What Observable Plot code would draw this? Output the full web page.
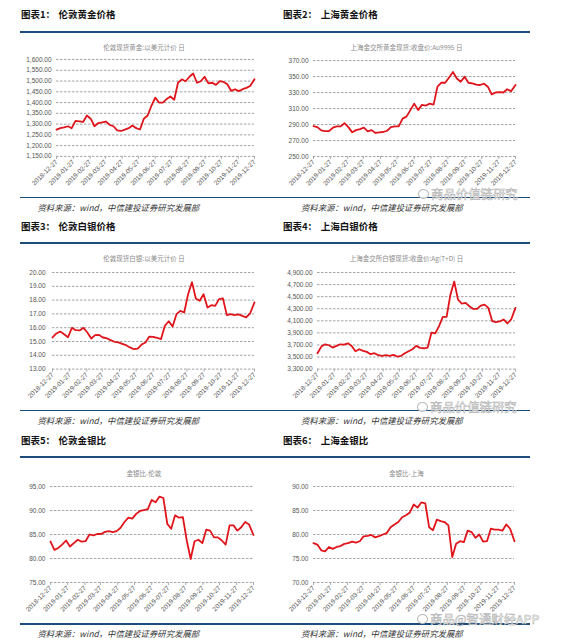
<!DOCTYPE html>
<html><head><meta charset="utf-8">
<script src="https://cdn.jsdelivr.net/npm/d3@7"></script>
<script src="https://cdn.jsdelivr.net/npm/@observablehq/plot@0.6"></script>
<style>
html,body{margin:0;padding:0;background:#fff;}
#page{position:relative;width:572px;height:638px;overflow:hidden;background:#fff;font-family:"Noto Sans CJK SC",sans-serif;}
.t{position:absolute;white-space:nowrap;line-height:1;}
.title{font-weight:bold;font-size:9.5px;color:#111;}
.rule{position:absolute;background:#1d4d7a;}
.sub{font-size:6.5px;color:#8a8a8a;transform:translateX(-50%);}
.src{font-size:8.4px;color:#333;font-style:italic;}
.wm{font-size:12.4px;color:rgba(255,255,255,0.9);-webkit-text-stroke:0.5px #b0b0b0;}
.logo{position:absolute;width:9px;height:8px;border:1px solid #b8b8b8;border-radius:50%;background:rgba(255,255,255,0.8);}
</style></head><body><div id="page"></div>
<script>
// ---- data (weekly readings, 2018-12-27 .. 2019-12-27) ----
const dates = ["2018-12-27","2019-01-03","2019-01-10","2019-01-17","2019-01-24","2019-01-31","2019-02-07","2019-02-14","2019-02-21","2019-02-28",
"2019-03-07","2019-03-14","2019-03-21","2019-03-28","2019-04-04","2019-04-11","2019-04-18","2019-04-25","2019-05-02","2019-05-09",
"2019-05-16","2019-05-23","2019-05-30","2019-06-06","2019-06-13","2019-06-20","2019-06-27","2019-07-04","2019-07-11","2019-07-18",
"2019-07-25","2019-08-01","2019-08-08","2019-08-15","2019-08-22","2019-08-29","2019-09-05","2019-09-12","2019-09-19","2019-09-26",
"2019-10-03","2019-10-10","2019-10-17","2019-10-24","2019-10-31","2019-11-07","2019-11-14","2019-11-21","2019-11-28","2019-12-05",
"2019-12-12","2019-12-19","2019-12-27"];

const londonGold = [1274,1281,1285,1290,1281,1315,1313,1310,1340,1325,1290,1305,1308,1312,1296,1290,1271,1268,1274,1281,1293,1281,1275,1325,1340,1385,1423,1400,1400,1416,1428,1413,1492,1508,1499,1520,1535,1492,1499,1520,1489,1492,1482,1500,1496,1485,1454,1462,1453,1462,1468,1477,1508];
const shanghaiGold = [288,286.7,282.7,281.8,281.8,286,287.6,287.6,291.6,286.7,280.2,283,284.3,286,281.4,283,279.4,280.2,280.6,282.2,286.7,287.6,287.6,297.3,299.8,308,316.1,308,314.5,313.7,316.1,314.9,337.3,342.2,342.2,348.8,355.7,347.5,343.5,349.6,342.2,341.4,339.8,339.4,341,337.3,327.6,330,330.4,330,334.1,331.6,339.4];
const londonSilver = [15.29,15.58,15.72,15.53,15.31,15.99,15.82,15.80,15.99,15.65,15.22,15.46,15.48,15.29,15.24,15.10,14.98,14.93,14.83,14.73,14.57,14.44,14.49,14.78,14.93,15.36,15.34,15.27,15.17,16.14,16.47,16.09,16.98,17.22,17.10,18.43,19.30,18.12,17.95,18.43,17.46,17.63,17.58,18.07,18.12,16.91,16.98,16.91,16.96,16.86,16.74,17.03,17.83];
const shanghaiSilver = [3563,3673,3711,3695,3656,3684,3711,3705,3727,3684,3596,3629,3601,3585,3547,3563,3530,3519,3530,3519,3536,3508,3519,3563,3596,3629,3684,3651,3645,3656,3903,3892,4012,4166,4166,4533,4750,4451,4385,4396,4341,4297,4297,4352,4368,4314,4095,4078,4089,4122,4056,4122,4314];
const londonRatio = [83.54,81.8,82.2,82.9,83.75,82.5,83.2,83.9,83.5,83.6,85.0,84.8,85.1,85.1,85.55,85.7,85.5,85.7,86.4,87.6,88.5,88.3,89.3,89.9,90.1,90.3,92.2,91.7,92.9,92.6,87.2,86.2,89.0,88.5,88.6,83.75,79.9,83.6,83.9,83.2,86.0,85.8,84.4,84.4,83.75,82.9,86.9,86.9,85.8,86.5,87.6,87.1,84.9];
const shanghaiRatio = [78.2,77.9,76.7,76.5,77.4,77.0,77.4,77.6,78.05,78.2,78.5,78.3,78.6,79.6,79.7,79.9,79.4,79.65,80.0,80.3,81.5,82.1,82.6,83.6,84.0,84.6,86.25,85.6,86.7,86.5,81.5,80.9,83.1,82.8,82.6,81.9,75.3,78.05,78.6,78.4,80.8,80.5,79.3,80.0,78.5,78.6,81.2,81.0,81.0,80.8,82.1,81.2,78.6];

const monthTicks = ["2018-12-27","2019-01-27","2019-02-27","2019-03-27","2019-04-27","2019-05-27","2019-06-27","2019-07-27","2019-08-27","2019-09-27","2019-10-27","2019-11-27","2019-12-27"];
const ticksLondonGold = [1150,1200,1250,1300,1350,1400,1450,1500,1550,1600];
const ticksShanghaiGold = [250,270,290,310,330,350,370];
const ticksLondonSilver = [13,14,15,16,17,18,19,20];
const ticksShanghaiSilver = [3300,3500,3700,3900,4100,4300,4500,4700,4900];
const ticksLondonRatio = [75,80,85,90,95];
const ticksShanghaiRatio = [70,75,80,85,90];

const numLabels = ["图表1：","图表2：","图表3：","图表4：","图表5：","图表6："];
const chartNames = ["伦敦黄金价格","上海黄金价格","伦敦白银价格","上海白银价格","伦敦金银比","上海金银比"];
const subtitles = ["伦敦现货黄金:以美元计价 日","上海金交所黄金现货:收盘价:Au9995 日","伦敦现货白银:以美元计价 日","上海金交所白银现货:收盘价:Ag(T+D) 日","金银比-伦敦","金银比-上海"];
const sourceText = "资料来源：wind，中信建投证券研究发展部";

// ---- layout ----
const page = document.getElementById("page");
function addText(cls, txt, x, yc, size) {
  const el = document.createElement("div");
  el.className = "t " + cls;
  el.textContent = txt;
  el.style.left = x + "px";
  el.style.top = (yc - size / 2) + "px";
  page.appendChild(el);
  return el;
}
function addRule(x1, x2, y, h) {
  const el = document.createElement("div");
  el.className = "rule";
  el.style.left = x1 + "px"; el.style.width = (x2 - x1) + "px";
  el.style.top = (y - h / 2) + "px"; el.style.height = h + "px";
  page.appendChild(el);
}
function addWatermark(x, yc, txt) {
  const logo = document.createElement("div");
  logo.className = "logo";
  logo.style.left = x + "px"; logo.style.top = (yc - 5) + "px";
  page.appendChild(logo);
  addText("wm", txt, x + 13, yc, 12.4);
}

const rows = [
  {titleY: 15, topRule: 31.7, subY: 47, botRule: 197.3, srcY: 207},
  {titleY: 226.7, topRule: 243.3, subY: 258.3, botRule: 410.7, srcY: 420.5},
  {titleY: 441, topRule: 457.3, subY: 473.3, botRule: 624, srcY: 633.3}
];
const cols = [
  {numX: 21, nameX: 58.5, subX: 144, srcX: 37.5},
  {numX: 283, nameX: 320.7, subX: 406.5, srcX: 301}
];

const panels = [
  {values: londonGold, yTicks: ticksLondonGold, fmt: ",.2f", pad: 5, plot: [56, 254, 59.3, 156.2]},
  {values: shanghaiGold, yTicks: ticksShanghaiGold, fmt: ".2f", pad: 5, plot: [313, 515, 60, 156]},
  {values: londonSilver, yTicks: ticksLondonSilver, fmt: ".2f", pad: 7, plot: [52, 254, 271.7, 368.3]},
  {values: shanghaiSilver, yTicks: ticksShanghaiSilver, fmt: ",.2f", pad: 5, plot: [317, 515, 271.7, 368.3]},
  {values: londonRatio, yTicks: ticksLondonRatio, fmt: ".2f", pad: 5, plot: [50, 253, 486, 582]},
  {values: shanghaiRatio, yTicks: ticksShanghaiRatio, fmt: ".2f", pad: 5, plot: [313, 514, 486, 582]}
];

rows.forEach(r => {
  addRule(20, 530, r.topRule, 2.2);
  addRule(20, 530, r.botRule, 1.6);
});

const parse = s => new Date(s + "T00:00:00Z");
const xTicks = monthTicks.map(parse);

panels.forEach((p, i) => {
  const r = rows[Math.floor(i / 2)], c = cols[i % 2];
  addText("title", numLabels[i], c.numX, r.titleY, 9.5);
  addText("title", chartNames[i], c.nameX, r.titleY, 9.5);
  addText("sub", subtitles[i], c.subX, r.subY, 6.5);
  addText("src", sourceText, c.srcX, r.srcY, 8.4);

  const [L, R, T, B] = p.plot;
  const ml = 40, mr = 15, mt = 6, mb = 48;
  const data = dates.map((d, j) => ({date: parse(d), value: p.values[j]}));
  const svg = Plot.plot({
    width: R - L + ml + mr,
    height: B - T + mt + mb,
    marginLeft: ml, marginRight: mr, marginTop: mt, marginBottom: mb,
    style: {background: "transparent", overflow: "visible", fontFamily: "'Liberation Sans', Arial, sans-serif", fontSize: "6.5px"},
    x: {type: "utc", domain: [xTicks[0], xTicks[xTicks.length - 1]], label: null},
    y: {domain: [p.yTicks[0], p.yTicks[p.yTicks.length - 1]], label: null},
    marks: [
      Plot.ruleY(p.yTicks, {stroke: "#8c8c8c", strokeWidth: 0.8, strokeDasharray: "2.5,1.5"}),
      Plot.axisY(p.yTicks, {tickSize: 0, tickPadding: p.pad, tickFormat: d3.format(p.fmt), fill: "#555", fontSize: 6.5, label: null}),
      Plot.axisX(xTicks, {tickSize: 3, tickPadding: 1.5, tickRotate: -45, textAnchor: "end", lineAnchor: "middle", tickFormat: d3.utcFormat("%Y-%m-%d"), stroke: "#aaa", fill: "#555", fontSize: 6.5, label: null}),
      Plot.line(data, {x: "date", y: "value", stroke: "#e0141b", strokeWidth: 1.8, strokeLinejoin: "round"})
    ]
  });
  svg.style.position = "absolute";
  svg.style.left = (L - ml) + "px";
  svg.style.top = (T - mt) + "px";
  page.appendChild(svg);
});

addWatermark(418, 194, "商品价值链研究");
addWatermark(417, 407, "商品价值链研究");
addWatermark(417, 619, "商品@智通财经APP");
</script></body></html>
